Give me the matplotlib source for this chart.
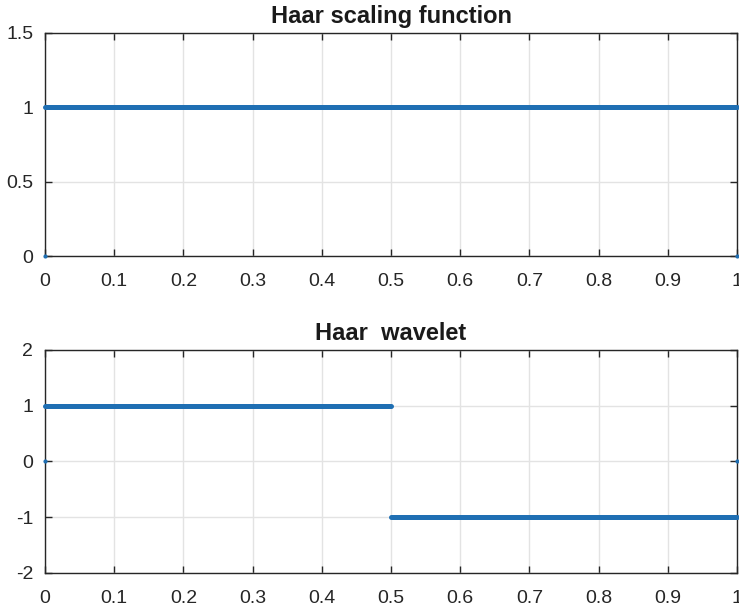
import numpy as np
import matplotlib.pyplot as plt
from matplotlib.ticker import FuncFormatter

plt.rcParams['font.family'] = ['Liberation Sans', 'DejaVu Sans']

# scaling function phi: constant pieces + isolated samples
phi_start = [0.0]
phi_end = [1.0]
phi_level = [1.0]
phi_dot_x = [0.0, 1.0]
phi_dot_y = [0.0, 0.0]

# wavelet psi
psi_start = [0.0, 0.5]
psi_end = [0.5, 1.0]
psi_level = [1.0, -1.0]
psi_dot_x = [0.0, 1.0]
psi_dot_y = [0.0, 0.0]

xticks = np.arange(0, 11) / 10
blue = '#1f6fb3'

fig = plt.figure(figsize=(7.39, 6.11), dpi=100)
ax1 = fig.add_axes([0.0609, 0.581, 0.9364, 0.365])
ax2 = fig.add_axes([0.0609, 0.0622, 0.9364, 0.365])

panels = [
    (ax1, phi_start, phi_end, phi_level, phi_dot_x, phi_dot_y,
     'Haar scaling function', (0, 1.5), [0, 0.5, 1, 1.5]),
    (ax2, psi_start, psi_end, psi_level, psi_dot_x, psi_dot_y,
     'Haar  wavelet', (-2, 2), [-2, -1, 0, 1, 2]),
]

fmt = FuncFormatter(lambda v, p: '%g' % v)

for ax, xs, xe, lv, dx, dy, title, ylim, yt in panels:
    for a, b, c in zip(xs, xe, lv):
        ax.plot([a, b], [c, c], color=blue, lw=3.6, solid_capstyle='round',
                clip_on=False, zorder=3)
    ax.plot(dx, dy, '.', color=blue, ms=4, clip_on=False, zorder=3)
    ax.set_xlim(0, 1)
    ax.set_ylim(*ylim)
    ax.set_xticks(xticks)
    ax.set_yticks(yt)
    ax.xaxis.set_major_formatter(fmt)
    ax.yaxis.set_major_formatter(fmt)
    ax.grid(True, color='#e3e3e3', lw=1.0)
    ax.set_axisbelow(True)
    ax.tick_params(direction='in', top=True, right=True, length=5, width=1,
                   labelsize=14, colors='#262626')
    ax.tick_params(axis='x', pad=12.5)
    ax.tick_params(axis='y', pad=8.5)
    for s in ax.spines.values():
        s.set_color('#262626')
        s.set_linewidth(1.0)
    ax.set_title(title, fontsize=17, fontweight='bold', pad=7.5,
                 color='#1a1a1a')

fig.savefig('out.png', dpi=100)
